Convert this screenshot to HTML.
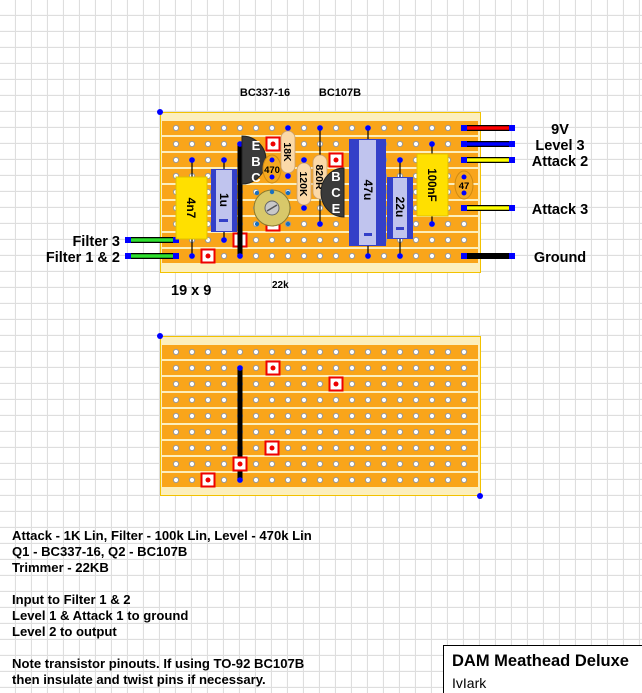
<!DOCTYPE html>
<html><head><meta charset="utf-8"><style>
html,body{margin:0;padding:0;background:#fff}
svg{display:block}
text{font-family:"Liberation Sans",Arial,sans-serif;font-weight:bold}
</style></head><body>
<svg width="642" height="693" viewBox="0 0 642 693" xmlns="http://www.w3.org/2000/svg">
<defs>
<pattern id="grid" x="0" y="0" width="16" height="16" patternUnits="userSpaceOnUse">
<rect width="16" height="16" fill="#fff"/>
<path d="M15.5 0V16M0 15.5H16" stroke="#dedede" stroke-width="1.2"/>
</pattern>
<pattern id="holes" x="168" y="120" width="16" height="16" patternUnits="userSpaceOnUse">
<circle cx="8" cy="8" r="2.6" fill="#fff" stroke="#999" stroke-width="1"/>
</pattern>
<pattern id="holes2" x="168" y="344" width="16" height="16" patternUnits="userSpaceOnUse">
<circle cx="8" cy="8" r="2.6" fill="#fff" stroke="#999" stroke-width="1"/>
</pattern>
<g id="cut"><rect x="-6.5" y="-6.5" width="13" height="13" fill="#fff" stroke="#e00" stroke-width="2"/><circle r="2.5" fill="#e00"/></g>
</defs>
<rect width="642" height="693" fill="url(#grid)"/>

<!-- TOP BOARD -->
<rect x="160.5" y="112.5" width="320" height="160" fill="#fcefbd" stroke="#f2c200"/>
<g fill="#f9a51a">
<rect x="162" y="121" width="316" height="14"/><rect x="162" y="137" width="316" height="14"/>
<rect x="162" y="153" width="316" height="14"/><rect x="162" y="169" width="316" height="14"/>
<rect x="162" y="185" width="316" height="14"/><rect x="162" y="201" width="316" height="14"/>
<rect x="162" y="217" width="316" height="14"/><rect x="162" y="233" width="316" height="14"/>
<rect x="162" y="249" width="316" height="14"/>
</g>
<rect x="168" y="120" width="304" height="144" fill="url(#holes)"/>
<circle cx="160" cy="112" r="3" fill="#00f"/>

<!-- left wires -->
<g stroke="#000" stroke-width="6"><line x1="128" y1="240" x2="176" y2="240"/><line x1="128" y1="256" x2="176" y2="256"/></g>
<g stroke="#2ee02e" stroke-width="3.5"><line x1="130" y1="240" x2="174" y2="240"/><line x1="130" y1="256" x2="174" y2="256"/></g>
<g fill="#00f"><rect x="125" y="237" width="6" height="6"/><rect x="173" y="237" width="6" height="6"/><rect x="125" y="253" width="6" height="6"/><rect x="173" y="253" width="6" height="6"/></g>

<!-- right wires -->
<g stroke="#000" stroke-width="6">
<line x1="464" y1="128" x2="512" y2="128"/><line x1="464" y1="144" x2="512" y2="144"/><line x1="464" y1="160" x2="512" y2="160"/><line x1="464" y1="208" x2="512" y2="208"/><line x1="464" y1="256" x2="512" y2="256"/></g>
<g stroke-width="3.5"><line x1="466" y1="128" x2="510" y2="128" stroke="#f00"/><line x1="466" y1="144" x2="510" y2="144" stroke="#00f"/><line x1="466" y1="160" x2="510" y2="160" stroke="#ff0"/><line x1="466" y1="208" x2="510" y2="208" stroke="#ff0"/><line x1="466" y1="256" x2="510" y2="256" stroke="#000"/></g>
<g fill="#00f"><rect x="461" y="125" width="6" height="6"/><rect x="509" y="125" width="6" height="6"/><rect x="461" y="141" width="6" height="6"/><rect x="509" y="141" width="6" height="6"/><rect x="461" y="157" width="6" height="6"/><rect x="509" y="157" width="6" height="6"/><rect x="461" y="205" width="6" height="6"/><rect x="509" y="205" width="6" height="6"/><rect x="461" y="253" width="6" height="6"/><rect x="509" y="253" width="6" height="6"/></g>

<!-- leads -->
<g stroke="#000" stroke-width="1.2">
<line x1="192" y1="160" x2="192" y2="256"/><line x1="224" y1="160" x2="224" y2="240"/>
<line x1="320" y1="128" x2="320" y2="224"/><line x1="368" y1="128" x2="368" y2="256"/>
<line x1="400" y1="160" x2="400" y2="256"/><line x1="432" y1="144" x2="432" y2="224"/>
<line x1="288" y1="128" x2="288" y2="176"/><line x1="304" y1="160" x2="304" y2="208"/>
<line x1="272" y1="160" x2="272" y2="176"/><line x1="464" y1="176" x2="464" y2="192"/>
</g>
<g fill="#00f">
<circle cx="192" cy="160" r="2.8"/><circle cx="192" cy="256" r="2.8"/><circle cx="224" cy="160" r="2.8"/><circle cx="224" cy="240" r="2.8"/>
<circle cx="320" cy="128" r="2.8"/><circle cx="320" cy="224" r="2.8"/><circle cx="368" cy="128" r="2.8"/><circle cx="368" cy="256" r="2.8"/>
<circle cx="400" cy="160" r="2.8"/><circle cx="400" cy="256" r="2.8"/><circle cx="432" cy="144" r="2.8"/><circle cx="432" cy="224" r="2.8"/>
<circle cx="288" cy="128" r="2.8"/><circle cx="288" cy="176" r="2.8"/><circle cx="304" cy="160" r="2.8"/><circle cx="304" cy="208" r="2.8"/>
</g>

<!-- cuts -->
<use href="#cut" x="273" y="144"/><use href="#cut" x="336" y="160"/><use href="#cut" x="240" y="240"/><use href="#cut" x="208" y="256"/><use href="#cut" x="273" y="224"/>

<!-- link wire -->
<line x1="240" y1="144" x2="240" y2="256" stroke="#000" stroke-width="5"/>
<circle cx="240" cy="144" r="2.8" fill="#00f"/><circle cx="240" cy="256" r="2.8" fill="#00f"/>

<!-- 4n7 -->
<rect x="176" y="177" width="31" height="62" fill="#ffe000" stroke="#e0c000"/>
<text transform="translate(187,208) rotate(90)" text-anchor="middle" font-size="12" fill="#000">4n7</text>
<!-- 1u -->
<rect x="211" y="169" width="26" height="63" fill="#3440c8"/>
<rect x="216" y="170" width="16" height="61" fill="#c0c4ee"/>
<text transform="translate(220,200) rotate(90)" text-anchor="middle" font-size="12">1u</text>
<rect x="219" y="219" width="9" height="3" fill="#3440c8"/>

<!-- BC337 -->
<path d="M242 136 A24 24 0 0 1 242 184 Z" fill="#3a3a3a" stroke="#222"/>
<g fill="#fff" font-size="13" text-anchor="middle"><text x="256" y="150">E</text><text x="256" y="166">B</text><text x="256" y="182">C</text></g>
<!-- 470 -->
<ellipse cx="272" cy="169" rx="9" ry="14" fill="#f4a820" stroke="#d08a10"/>
<circle cx="272" cy="160" r="2.5" fill="#00f"/><circle cx="272" cy="177" r="2.5" fill="#00f"/>
<text x="272" y="173" text-anchor="middle" font-size="9.5">470</text>

<!-- resistors -->
<g fill="#fbd9a8" stroke="#c9a070" stroke-width="0.8">
<rect x="281" y="131" width="14" height="42" rx="7"/>
<rect x="297" y="163" width="14" height="42" rx="7"/>
<rect x="313" y="155" width="14" height="44" rx="7"/>
</g>
<text transform="translate(284,152) rotate(90)" text-anchor="middle" font-size="10.5">18K</text>
<text transform="translate(300,184) rotate(90)" text-anchor="middle" font-size="10.5">120K</text>
<text transform="translate(316,177) rotate(90)" text-anchor="middle" font-size="10.5">820R</text>

<!-- BC107 -->
<path d="M344 168 A23 24.5 0 0 0 344 217 Z" fill="#3a3a3a" stroke="#222"/>
<g fill="#fff" font-size="13" text-anchor="middle"><text x="336" y="181">B</text><text x="336" y="197">C</text><text x="336" y="213">E</text></g>

<!-- trimmer -->
<circle cx="272" cy="208" r="18" fill="#d8c86a" stroke="#8a7a30"/>
<circle cx="272" cy="208" r="7" fill="#c8c8c8" stroke="#666"/>
<line x1="267" y1="211" x2="277" y2="205" stroke="#555" stroke-width="1.5"/>
<g fill="#1a70c0"><circle cx="257" cy="193" r="2.2"/><circle cx="288" cy="193" r="2.2"/><circle cx="257" cy="224" r="2.2"/><circle cx="288" cy="224" r="2.2"/><circle cx="272" cy="192" r="2.2"/></g>

<!-- 47u -->
<rect x="349" y="139" width="37" height="107" fill="#3440c8"/>
<rect x="359" y="140" width="17" height="105" fill="#c0c4ee"/>
<text transform="translate(364,190) rotate(90)" text-anchor="middle" font-size="12">47u</text>
<rect x="364" y="233" width="8" height="3" fill="#3440c8"/>
<!-- 22u -->
<rect x="387" y="177" width="26" height="62" fill="#3440c8"/>
<rect x="393" y="178" width="14" height="60" fill="#c0c4ee"/>
<text transform="translate(396,207) rotate(90)" text-anchor="middle" font-size="12">22u</text>
<rect x="396" y="227" width="8" height="3" fill="#3440c8"/>
<!-- 100nF -->
<rect x="417" y="154" width="31" height="62" fill="#ffe000" stroke="#e0c000"/>
<text transform="translate(428,185) rotate(90)" text-anchor="middle" font-size="11.5">100nF</text>
<!-- 47 -->
<ellipse cx="464" cy="185" rx="9" ry="14" fill="#f4a820" stroke="#d08a10"/>
<circle cx="464" cy="177" r="2.5" fill="#00f"/><circle cx="464" cy="193" r="2.5" fill="#00f"/>
<text x="464" y="189" text-anchor="middle" font-size="9.5">47</text>

<!-- labels -->
<g font-size="11" text-anchor="middle"><text x="265" y="96">BC337-16</text><text x="340" y="96">BC107B</text></g>
<g font-size="14.5" text-anchor="middle"><text x="560" y="134">9V</text><text x="560" y="150">Level 3</text><text x="560" y="166">Attack 2</text><text x="560" y="214">Attack 3</text><text x="560" y="262">Ground</text></g>
<g font-size="14.5" text-anchor="end"><text x="120" y="246">Filter 3</text><text x="120" y="262">Filter 1 &amp; 2</text></g>
<text x="171" y="295" font-size="14.5">19 x 9</text>
<text x="272" y="288" font-size="10">22k</text>

<!-- BOTTOM BOARD -->
<rect x="160.5" y="336.5" width="320" height="159" fill="#fcefbd" stroke="#f2c200"/>
<g fill="#f9a51a">
<rect x="162" y="345" width="316" height="14"/><rect x="162" y="361" width="316" height="14"/>
<rect x="162" y="377" width="316" height="14"/><rect x="162" y="393" width="316" height="14"/>
<rect x="162" y="409" width="316" height="14"/><rect x="162" y="425" width="316" height="14"/>
<rect x="162" y="441" width="316" height="14"/><rect x="162" y="457" width="316" height="14"/>
<rect x="162" y="473" width="316" height="14"/>
</g>
<rect x="168" y="344" width="304" height="144" fill="url(#holes2)"/>
<circle cx="160" cy="336" r="3" fill="#00f"/><circle cx="480" cy="496" r="3" fill="#00f"/>
<line x1="240" y1="368" x2="240" y2="480" stroke="#000" stroke-width="5"/>
<circle cx="240" cy="368" r="2.8" fill="#00f"/><circle cx="240" cy="480" r="2.8" fill="#00f"/>
<use href="#cut" x="273" y="368"/><use href="#cut" x="336" y="384"/><use href="#cut" x="272" y="448"/><use href="#cut" x="240" y="464"/><use href="#cut" x="208" y="480"/>

<!-- notes -->
<g font-size="13.1">
<text x="12" y="540">Attack - 1K Lin, Filter - 100k Lin, Level - 470k Lin</text>
<text x="12" y="556">Q1 - BC337-16, Q2 - BC107B</text>
<text x="12" y="572">Trimmer - 22KB</text>
<text x="12" y="604">Input to Filter 1 &amp; 2</text>
<text x="12" y="620">Level 1 &amp; Attack 1 to ground</text>
<text x="12" y="636">Level 2 to output</text>
<text x="12" y="668">Note transistor pinouts.  If using TO-92 BC107B</text>
<text x="12" y="684">then insulate and twist pins if necessary.</text>
</g>

<!-- title box -->
<rect x="443.5" y="645.5" width="200" height="50" fill="#fff" stroke="#000"/>
<text x="452" y="666" font-size="16.5">DAM Meathead Deluxe</text>
<text x="452" y="688" font-size="14" style="font-weight:normal">IvIark</text>
</svg>
</body></html>
